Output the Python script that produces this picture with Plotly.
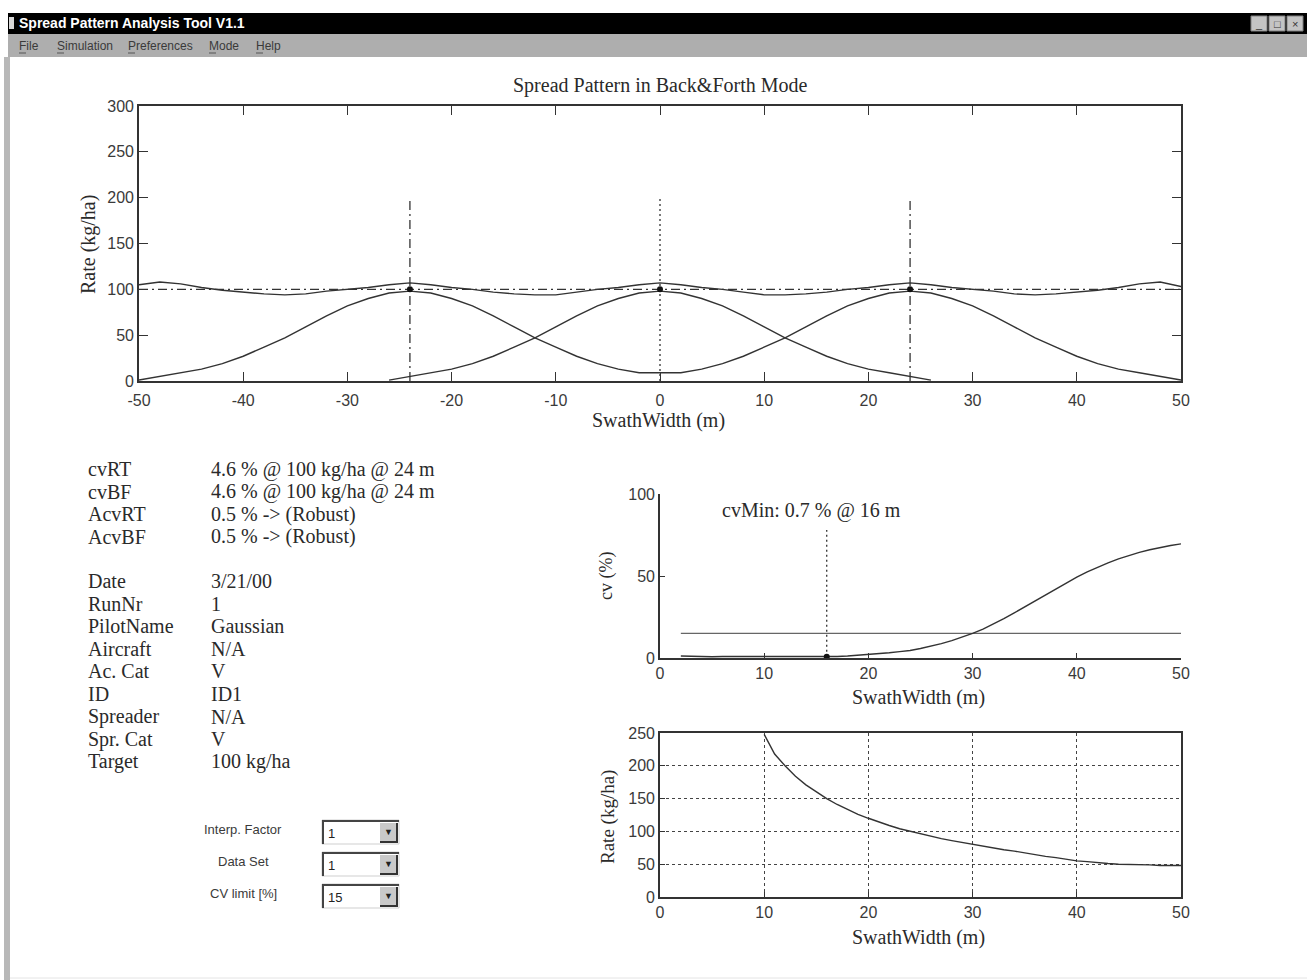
import plotly.graph_objects as go

W, H = 1307, 980

# ---------------------------------------------------------------- data
# single-pass deposit profile: rate (kg/ha) vs. offset from the flight track (m)
pass_offset = [-26, -24, -22, -20, -18, -16, -14, -12, -10, -8, -6, -4, -2, 0,
               2, 4, 6, 8, 10, 12, 14, 16, 18, 20, 22, 24, 26]
pass_rate = [1, 5, 9, 13, 19, 27, 37, 47, 59, 71, 82, 90, 96, 98,
             96, 90, 82, 71, 59, 47, 37, 27, 19, 13, 9, 5, 1]

# flight tracks at the working swath width
pass_centers = [-24, 0, 24]
target_rate = 100
guide_top = 200

# lateral positions across the field (m)
swath_x = [-50, -48, -46, -44, -42, -40, -38, -36, -34, -32, -30, -28, -26,
           -24, -22, -20, -18, -16, -14, -12, -10, -8, -6, -4, -2, 0,
           2, 4, 6, 8, 10, 12, 14, 16, 18, 20, 22, 24, 26, 28, 30, 32,
           34, 36, 38, 40, 42, 44, 46, 48, 50]
# deposit of the two outer passes
side_passes = [1, 5, 9, 13, 19, 27, 37, 47, 59, 71, 82, 90, 96,
               98, 96, 90, 82, 71, 59, 47, 37, 27, 19, 13, 9, 9,
               9, 13, 19, 27, 37, 47, 59, 71, 82, 90, 96, 98, 96, 90, 82, 71,
               59, 47, 37, 27, 19, 13, 9, 5, 1]
# overlapped back & forth pattern
pattern_sum = [105, 108, 106, 102, 99, 97, 95, 94, 95, 98, 100, 102, 105,
               107, 105, 102, 100, 97, 95, 94, 94, 97, 100, 102, 105, 107,
               105, 102, 100, 97, 94, 94, 95, 97, 100, 102, 105, 107, 105, 102, 100, 98,
               95, 94, 95, 97, 99, 102, 106, 108, 103]

pattern_ticks = [-50, -40, -30, -20, -10, 0, 10, 20, 30, 40, 50]
pattern_tick_text = ["-50", "-40", "-30", "-20", "-10", "0", "10", "20", "30", "40", "50"]

# coefficient of variation vs. swath width
cv_width = list(range(2, 51))
cv_pct = [1.2, 1.0, 0.9, 0.8, 0.9, 0.9, 0.8, 0.8, 0.8, 0.8, 0.9, 0.9, 0.8, 0.8,
          0.7, 0.9, 1.2, 1.6, 2.0, 2.5, 3.2, 3.9, 4.6, 5.8, 7.2, 8.8, 10.6,
          12.7, 15.0, 17.6, 20.6, 24.0, 27.5, 31.2, 35.0, 38.7, 42.3, 45.9,
          49.3, 52.5, 55.4, 58.0, 60.4, 62.5, 64.4, 66.0, 67.4, 68.6, 69.6]
cv_limit = 15
cv_limit_span = [2, 50]
cvmin_guide_top = 78

# application rate needed vs. swath width
rate_width = list(range(10, 51))
rate_kgha = [248, 218, 200, 184, 171, 160, 150, 141, 133, 126, 120, 114, 109,
             104, 100, 96, 92, 89, 86, 83, 80, 77, 75, 72, 70, 67, 65, 62, 60,
             57, 55, 54, 52, 51, 50, 50, 49, 49, 48, 48, 48]

# run summary
info_labels = ["cvRT", "cvBF", "AcvRT", "AcvBF", "", "Date", "RunNr", "PilotName",
               "Aircraft", "Ac. Cat", "ID", "Spreader", "Spr. Cat", "Target"]
info_values = ["4.6 % @ 100 kg/ha @ 24 m", "4.6 % @ 100 kg/ha @ 24 m",
               "0.5 % -> (Robust)", "0.5 % -> (Robust)", "", "3/21/00", "1",
               "Gaussian", "N/A", "V", "ID1", "N/A", "V", "100 kg/ha"]

# option selectors
option_labels = ["Interp. Factor", "Data Set", "CV limit [%]"]
option_values = ["1", "1", str(cv_limit)]

menu_items = ["File", "Simulation", "Preferences", "Mode", "Help"]
menu_x = [17, 55, 126, 207, 254]

# ---------------------------------------------------------------- helpers
SERIF = "Liberation Serif"
SANS = "Liberation Sans"
INK = "#2a2a2a"


def px(x):
    return x / W


def py(y):
    return 1 - y / H


shapes = []
annotations = []


def rect(x0, y0, x1, y1, fill, line=None, lw=0):
    shapes.append(dict(type="rect", xref="paper", yref="paper",
                       x0=px(x0), x1=px(x1), y0=py(y1), y1=py(y0),
                       fillcolor=fill, line=dict(color=line or fill, width=lw),
                       layer="above"))


def seg(x0, y0, x1, y1, color, lw=1):
    shapes.append(dict(type="line", xref="paper", yref="paper",
                       x0=px(x0), x1=px(x1), y0=py(y0), y1=py(y1),
                       line=dict(color=color, width=lw), layer="above"))


def text(x, y, s, size, family=SERIF, color=INK, anchor="left", angle=0, bold=False):
    annotations.append(dict(xref="paper", yref="paper", x=px(x), y=py(y),
                            text=f"<b>{s}</b>" if bold else s, showarrow=False,
                            xanchor=anchor, yanchor="middle", textangle=angle,
                            font=dict(family=family, size=size, color=color)))


fig = go.Figure()

# ---------------------------------------------------------------- spread pattern
line_style = dict(color="#333333", width=1.4)
fig.add_trace(go.Scatter(x=[pass_centers[1] + o for o in pass_offset], y=pass_rate,
                         mode="lines", line=line_style, xaxis="x", yaxis="y"))
fig.add_trace(go.Scatter(x=swath_x, y=side_passes, mode="lines", line=line_style,
                         xaxis="x", yaxis="y"))
fig.add_trace(go.Scatter(x=[swath_x[0], swath_x[-1]], y=[target_rate, target_rate],
                         mode="lines",
                         line=dict(color="#333333", width=1.4, dash="9px,4px,2px,4px"),
                         xaxis="x", yaxis="y"))
fig.add_trace(go.Scatter(x=swath_x, y=pattern_sum, mode="lines", line=line_style,
                         xaxis="x", yaxis="y"))
for c in pass_centers:
    dash = "2px,3px" if c == 0 else "9px,4px,2px,4px"
    fig.add_trace(go.Scatter(x=[c, c], y=[0, guide_top], mode="lines",
                             line=dict(color="#333333", width=1.3, dash=dash),
                             xaxis="x", yaxis="y"))
fig.add_trace(go.Scatter(x=pass_centers, y=[target_rate] * len(pass_centers),
                         mode="markers", marker=dict(color="#111111", size=6),
                         xaxis="x", yaxis="y"))

# ---------------------------------------------------------------- cv vs swath
fig.add_trace(go.Scatter(x=cv_limit_span, y=[cv_limit, cv_limit], mode="lines",
                         line=dict(color="#666666", width=1.4), xaxis="x2", yaxis="y2"))
fig.add_trace(go.Scatter(x=cv_width, y=cv_pct, mode="lines",
                         line=dict(color="#333333", width=1.4), xaxis="x2", yaxis="y2"))
cv_min = min(cv_pct)
cv_min_w = cv_width[cv_pct.index(cv_min)]
fig.add_trace(go.Scatter(x=[cv_min_w, cv_min_w], y=[cv_min, cvmin_guide_top], mode="lines",
                         line=dict(color="#333333", width=1.3, dash="2px,3px"),
                         xaxis="x2", yaxis="y2"))
fig.add_trace(go.Scatter(x=[cv_min_w], y=[cv_min], mode="markers",
                         marker=dict(color="#111111", size=6), xaxis="x2", yaxis="y2"))
annotations.append(dict(xref="x2", yref="y2", x=5.8, y=90, xanchor="left", yanchor="middle",
                        text=f"cvMin: {cv_min} % @ {cv_min_w} m", showarrow=False,
                        font=dict(family=SERIF, size=20, color=INK)))

# ---------------------------------------------------------------- rate vs swath
fig.add_trace(go.Scatter(x=rate_width, y=rate_kgha, mode="lines",
                         line=dict(color="#333333", width=1.4), xaxis="x3", yaxis="y3"))

tickfont = dict(family=SANS, size=16, color="#3a3a3a")
axis_common = dict(showline=True, linecolor="#333333", linewidth=1.6, ticks="inside",
                   tickcolor="#333333", tickwidth=1.4, tickfont=tickfont,
                   zeroline=False, showgrid=False, fixedrange=True, automargin=False)

fig.update_layout(
    width=W, height=H, autosize=False,
    margin=dict(l=0, r=0, t=0, b=0, pad=0, autoexpand=False),
    paper_bgcolor="white", plot_bgcolor="white", showlegend=False,
    xaxis=dict(axis_common, domain=[px(139), px(1181)], range=[-50, 50],
               tickvals=pattern_ticks, ticktext=pattern_tick_text,
               mirror="ticks", ticklen=9, ticklabelstandoff=4, anchor="y"),
    yaxis=dict(axis_common, domain=[py(381), py(106)], range=[0, 300], dtick=50,
               mirror="ticks", ticklen=9, anchor="x"),
    xaxis2=dict(axis_common, domain=[px(660), px(1181)], range=[0, 50], dtick=10,
                ticklen=5, anchor="y2"),
    yaxis2=dict(axis_common, domain=[py(658), py(494)], range=[0, 100], dtick=50,
                ticklen=5, anchor="x2"),
    xaxis3=dict(axis_common, domain=[px(660), px(1181)], range=[0, 50], dtick=10,
                ticklen=5, mirror=True, showgrid=True, gridcolor="#444444",
                griddash="dot", gridwidth=1, anchor="y3"),
    yaxis3=dict(axis_common, domain=[py(897), py(733)], range=[0, 250], dtick=50,
                ticklen=5, mirror=True, showgrid=True, gridcolor="#444444",
                griddash="dot", gridwidth=1, anchor="x3"),
)

# ---------------------------------------------------------------- titles
text(660, 85, "Spread Pattern in Back&amp;Forth Mode", 20, anchor="center")
text(658, 420, "SwathWidth (m)", 20, anchor="center")
text(88, 245, "Rate (kg/ha)", 20, anchor="center", angle=-90)
text(918, 697, "SwathWidth (m)", 20, anchor="center")
text(606, 576, "cv (%)", 18, anchor="center", angle=-90)
text(918, 937, "SwathWidth (m)", 20, anchor="center")
text(608, 817, "Rate (kg/ha)", 19, anchor="center", angle=-90)

# ---------------------------------------------------------------- run summary
row_y = 469
for lab, val in zip(info_labels, info_values):
    if lab:
        text(86, row_y, lab, 20)
        text(209, row_y, val, 20)
    row_y += 22.6 if lab else 21.5

# ---------------------------------------------------------------- window frame
rect(8, 13, 1307, 34, "#000000")
rect(9, 17, 14, 29, "#d8d8d8")
text(17, 23, "Spread Pattern Analysis Tool V1.1", 14, family=SANS, color="#ffffff", bold=True)
for bx, glyph in zip([1251, 1269, 1287], ["_", "□", "×"]):
    rect(bx, 16, bx + 16, 31, "#c4c4c4", "#808080", 1)
    text(bx + 8, 23.5, glyph, 11, family=SANS, color="#333333", anchor="center")
rect(8, 34, 1307, 57, "#aeaeae")
for mx, item in zip(menu_x, menu_items):
    text(mx, 46, item, 12, family=SANS, color="#3a3a3a")
    seg(mx + 2, 53, mx + 9, 53, "#555555", 1)
rect(4, 57, 10, 980, "#b8b8b8")
seg(10, 978, 1307, 978, "#e4e4e4", 1)

# ---------------------------------------------------------------- option selectors
for i, (lab, val) in enumerate(zip(option_labels, option_values)):
    top = 820 + 32 * i
    bot = top + 24
    text(243, top + 9, lab, 13, family=SANS, color="#3a3a3a", anchor="center")
    rect(322, top, 399, bot, "#ffffff", "#cfcfcf", 1)
    seg(322, top + 1, 399, top + 1, "#444444", 2)
    seg(323, top, 323, bot, "#444444", 2)
    rect(380, top + 3, 397, bot - 2, "#c9c9c9")
    seg(380, bot - 2, 398, bot - 2, "#333333", 2)
    seg(397, top + 3, 397, bot - 2, "#333333", 2)
    text(388.5, top + 12, "▼", 9, family=SANS, color="#222222", anchor="center")
    text(326, top + 13, val, 13, family=SANS, color="#222222")

fig.update_layout(shapes=shapes, annotations=annotations)
fig.write_html("out.html")
